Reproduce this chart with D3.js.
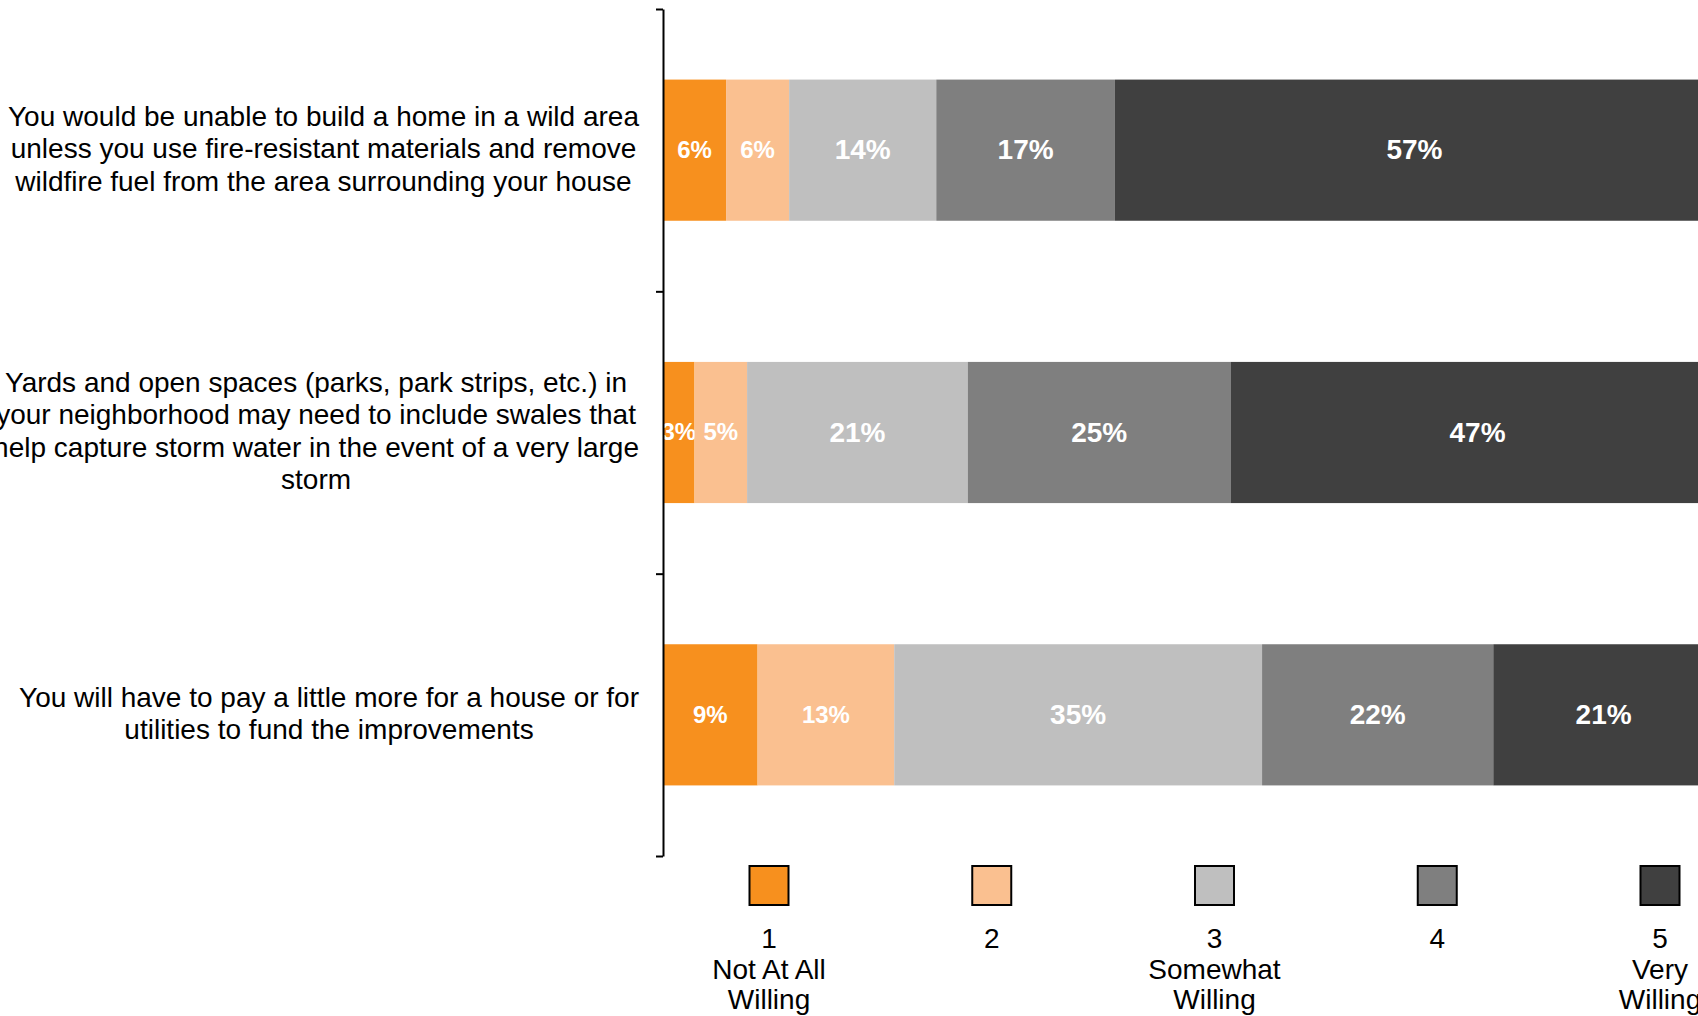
<!DOCTYPE html>
<html>
<head>
<meta charset="utf-8">
<script src="https://cdn.jsdelivr.net/npm/d3@7"></script>
<style>
  html, body { margin: 0; padding: 0; background: #fff; overflow: hidden; }
  svg { display: block; font-family: Arial, "Liberation Sans", sans-serif; }
</style>
</head>
<body>
<svg id="chart" width="1698" height="1016"></svg>
<script>
// Survey statements (wrapped as displayed)
const statementLines = [
  ["You would be unable to build a home in a wild area",
   "unless you use fire-resistant materials and remove",
   "wildfire fuel from the area surrounding your house"],
  ["Yards and open spaces (parks, park strips, etc.) in",
   "your neighborhood may need to include swales that",
   "help capture storm water in the event of a very large",
   "storm"],
  ["You will have to pay a little more for a house or for",
   "utilities to fund the improvements"]
];

// Willingness scale
const levels = ["1", "2", "3", "4", "5"];
const levelNames = [["Not At All", "Willing"], [], ["Somewhat", "Willing"], [], ["Very", "Willing"]];
const levelColors = ["#F7901E", "#FAC090", "#BFBFBF", "#7F7F7F", "#404040"];

// Percent of respondents per level, one entry per statement
const level1 = [6, 3, 9];
const level2 = [6, 5, 13];
const level3 = [14, 21, 35];
const level4 = [17, 25, 22];
const level5 = [57, 47, 21];

const seriesValues = [level1, level2, level3, level4, level5];
const table = statementLines.map((lines, i) => {
  const row = { key: i };
  levels.forEach((lv, j) => { row[lv] = seriesValues[j][i]; });
  return row;
});

const svg = d3.select("#chart");

const axisX = 663;
const x = d3.scaleLinear().domain([0, 100]).range([axisX, axisX + 1051]);
const y = d3.scaleBand()
  .domain(table.map(d => d.key))
  .range([9, 856])
  .paddingInner(0.5)
  .paddingOuter(0.25);
const color = d3.scaleOrdinal().domain(levels).range(levelColors);

const stacked = d3.stack().keys(levels)(table);

// Stacked bars
const layers = svg.append("g").selectAll("g")
  .data(stacked)
  .join("g")
  .attr("fill", s => color(s.key));

layers.selectAll("rect")
  .data(s => s)
  .join("rect")
  .attr("x", d => x(d[0]))
  .attr("y", d => y(d.data.key))
  .attr("width", d => x(d[1]) - x(d[0]))
  .attr("height", y.bandwidth());

// Value labels
layers.each(function (s, j) {
  d3.select(this).selectAll("text")
    .data(s)
    .join("text")
    .attr("x", d => (x(d[0]) + x(d[1])) / 2)
    .attr("y", d => y(d.data.key) + y.bandwidth() / 2)
    .attr("dy", "0.33em")
    .attr("text-anchor", "middle")
    .attr("fill", "#fff")
    .attr("font-weight", "bold")
    .attr("font-size", j < 2 ? 24 : 28)
    .text(d => (d[1] - d[0]) + "%");
});

// Category axis with ticks between categories
const boundary = d3.scaleLinear().domain([0, table.length]).range([9, 856]);
const axisG = svg.append("g")
  .attr("transform", `translate(${axisX},0)`)
  .call(d3.axisLeft(boundary).tickValues(d3.range(table.length + 1)).tickFormat("").tickSize(7).tickSizeOuter(0));
axisG.select(".domain").attr("stroke", "#000").attr("stroke-width", 2);
axisG.selectAll(".tick line").attr("stroke", "#000").attr("stroke-width", 2);

// Category labels: lines centered within a block right-aligned to the axis
const labelRight = 639;
const lineH = 32.5;
statementLines.forEach((lines, i) => {
  const cy = y(i) + y.bandwidth() / 2;
  const g = svg.append("g");
  const texts = g.selectAll("text")
    .data(lines)
    .join("text")
    .attr("font-size", 28)
    .attr("fill", "#000")
    .attr("text-anchor", "middle")
    .attr("dy", "0.29em")
    .attr("y", (d, k) => cy + (k - (lines.length - 1) / 2) * lineH)
    .text(d => d);
  let maxW = 0;
  texts.each(function () { maxW = Math.max(maxW, this.getComputedTextLength()); });
  texts.attr("x", labelRight - maxW / 2);
});

// Legend
const lx = d3.scalePoint().domain(levels).range([769, 1660]);
const legend = svg.append("g").selectAll("g")
  .data(levels)
  .join("g")
  .attr("transform", d => `translate(${lx(d)},0)`);

legend.append("rect")
  .attr("x", -19.5)
  .attr("y", 866)
  .attr("width", 39)
  .attr("height", 39)
  .attr("fill", d => color(d))
  .attr("stroke", "#000")
  .attr("stroke-width", 2);

legend.each(function (d, j) {
  const lines = [d].concat(levelNames[j]);
  d3.select(this).selectAll("text")
    .data(lines)
    .join("text")
    .attr("text-anchor", "middle")
    .attr("font-size", 28)
    .attr("fill", "#000")
    .attr("y", (t, k) => 939 + k * 30.5)
    .attr("dy", "0.33em")
    .text(t => t);
});
</script>
</body>
</html>
